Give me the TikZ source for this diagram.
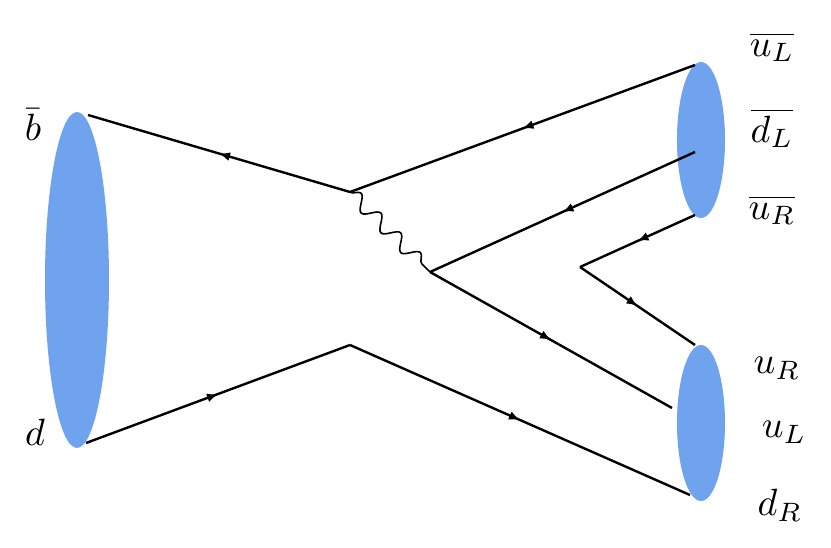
\documentclass[tikz,border=0pt]{standalone}
\usetikzlibrary{decorations.markings,decorations.pathmorphing,arrows.meta}
\definecolor{blob}{RGB}{111,163,238}
\tikzset{
  fermion/.style={line width=2.4pt, postaction={decorate},
    decoration={markings, mark=at position #1 with {\arrow{Latex[length=11pt,width=9pt]}}}},
  fermion/.default=0.5,
  boson/.style={line width=1.6pt, decorate, decoration={snake, amplitude=7pt, segment length=28pt}},
  blobshape/.style={fill=blob, draw=none},
  lab/.style={scale=3.8}
}
\begin{document}
\begin{tikzpicture}[x=1pt,y=-1pt]
\useasboundingbox (0,0) rectangle (831,548);
\fill[blobshape] (77,280) ellipse [x radius=32, y radius=168];
\fill[blobshape] (701,140) ellipse [x radius=24, y radius=78];
\fill[blobshape] (701,423) ellipse [x radius=24, y radius=78];
\coordinate (bbar) at (88,115);
\coordinate (dq) at (86,443);
\coordinate (v1) at (350,192);
\coordinate (v2) at (430,272);
\coordinate (vb) at (350,345);
\coordinate (turn) at (580,267);
\coordinate (uLbar) at (695,65);
\coordinate (dLbar) at (695,152);
\coordinate (uRbar) at (695,215);
\coordinate (uR) at (695,345);
\coordinate (uL) at (672,408);
\coordinate (dR) at (690,495);
% quark lines
\draw[fermion] (v1) -- (bbar);
\draw[fermion] (uLbar) -- (v1);
\draw[fermion] (dLbar) -- (v2);
\draw[fermion] (v2) -- (uL);
\draw[fermion] (uRbar) -- (turn);
\draw[fermion] (turn) -- (uR);
\draw[fermion] (dq) -- (vb);
\draw[fermion] (vb) -- (dR);
% W boson
\draw[boson] (v1) -- (v2);
% labels
\node[lab] (lb) at (33,125) {$\bar b$};
\node[lab] (ld) at (35,432) {$d$};
\node[lab] (l1) at (772,47) {$\overline{u_L}$};
\node[lab] (l2) at (772,128) {$\overline{d_L}$};
\node[lab] (l3) at (772,210) {$\overline{u_R}$};
\node[lab] (l4) at (777,368) {$u_R$};
\node[lab] (l5) at (784,432) {$u_L$};
\node[lab] (l6) at (780,505) {$d_R$};
\end{tikzpicture}
\end{document}
